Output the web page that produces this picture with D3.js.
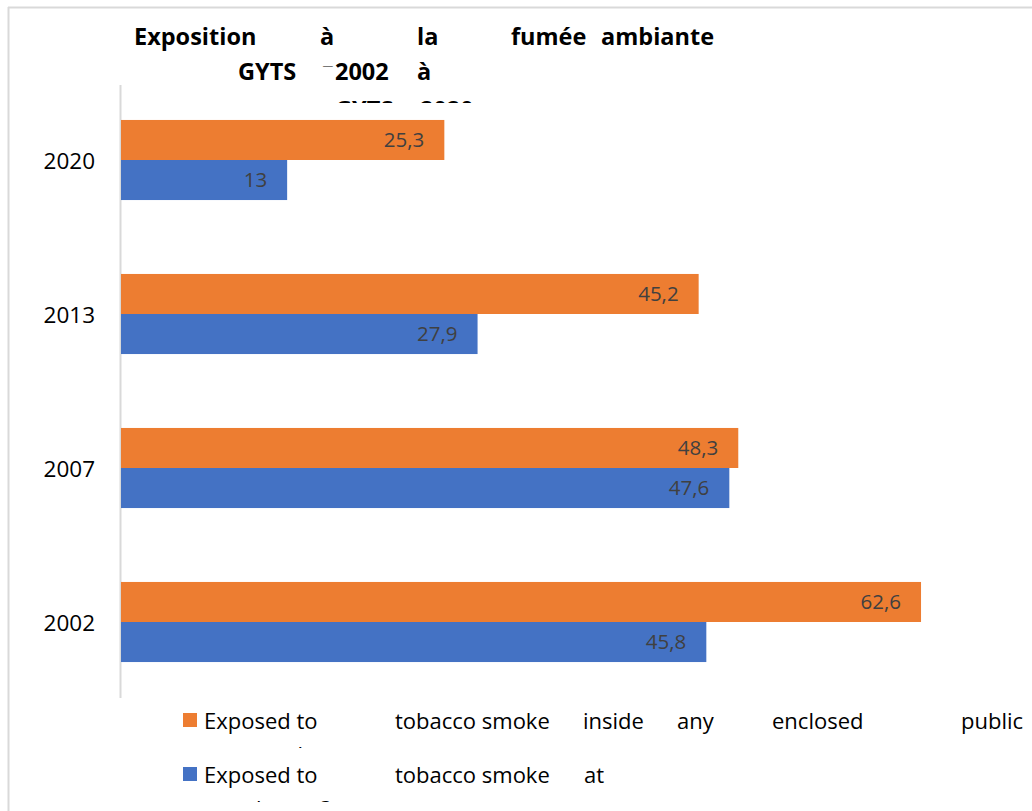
<!DOCTYPE html>
<html>
<head>
<meta charset="utf-8">
<script src="https://cdn.jsdelivr.net/npm/d3@7"></script>
<style>
  html, body { margin: 0; padding: 0; background: #fff; }
  svg { display: block; }
  text { font-family: "Open Sans", "Noto Sans", sans-serif; }
</style>
</head>
<body>
<svg id="chart" width="1032" height="811"></svg>
<script>
// Survey years (drawn top to bottom)
const years = ["2020", "2013", "2007", "2002"];
// Share of students exposed (%), per year
const publicPlaces = [25.3, 45.2, 48.3, 62.6];
const atHome = [13, 27.9, 47.6, 45.8];
const seriesNames = [
  "Exposed to tobacco smoke inside any enclosed public places",
  "Exposed to tobacco smoke at home"
];
const seriesColors = ["#ED7D31", "#4472C4"];

const fmt = v => String(v).replace(".", ",");

const svg = d3.select("#chart");

// outer frame
svg.append("line").attr("x1", 8).attr("x2", 1032).attr("y1", 7.5).attr("y2", 7.5)
  .attr("stroke", "#d9d9d9").attr("stroke-width", 2);
svg.append("line").attr("x1", 8.5).attr("x2", 8.5).attr("y1", 7).attr("y2", 811)
  .attr("stroke", "#d9d9d9").attr("stroke-width", 2);

// scales
const x = d3.scaleLinear().domain([0, 70]).range([121, 121 + 70 * 12.78]);
const y = d3.scaleBand().domain(years).range([83, 699]).paddingInner(0.48).paddingOuter(0.24);
const sub = d3.scaleBand().domain([0, 1]).range([0, y.bandwidth()]);

// category axis line
svg.append("line").attr("x1", 120.5).attr("x2", 120.5).attr("y1", 85).attr("y2", 698)
  .attr("stroke", "#d9d9d9").attr("stroke-width", 2);

const rows = years.map((yr, i) => ({ yr, vals: [publicPlaces[i], atHome[i]] }));

const grp = svg.append("g").selectAll("g.year").data(rows).join("g")
  .attr("class", "year")
  .attr("transform", d => `translate(0,${y(d.yr)})`);

grp.selectAll("rect").data(d => d.vals).join("rect")
  .attr("x", x(0))
  .attr("y", (d, i) => sub(i))
  .attr("width", d => x(d) - x(0))
  .attr("height", sub.bandwidth())
  .attr("fill", (d, i) => seriesColors[i]);

grp.selectAll("text.val").data(d => d.vals).join("text")
  .attr("class", "val")
  .attr("x", d => x(d) - 20)
  .attr("y", (d, i) => sub(i) + sub.bandwidth() / 2)
  .attr("dy", "0.36em")
  .attr("text-anchor", "end")
  .attr("font-size", 20.5)
  .attr("fill", "#404040")
  .text(d => fmt(d));

// year labels
svg.selectAll("text.yr").data(years).join("text")
  .attr("class", "yr")
  .attr("x", 95)
  .attr("y", d => y(d) + y.bandwidth() / 2)
  .attr("dy", "0.38em")
  .attr("text-anchor", "end")
  .attr("font-size", 22.5)
  .attr("fill", "#000")
  .text(d => d);

// title, justified over two lines, third line cut off by the plot top
const titleWords = [
  { t: "Exposition", x: 134, y: 45 },
  { t: "à", x: 320, y: 45 },
  { t: "la", x: 417, y: 45 },
  { t: "fumée", x: 511, y: 45 },
  { t: "ambiante", x: 601, y: 45 },
  { t: "GYTS", x: 238, y: 80 },
  { t: "2002", x: 335, y: 80 },
  { t: "à", x: 417, y: 80 }
];
svg.append("g").selectAll("text").data(titleWords).join("text")
  .attr("x", d => d.x).attr("y", d => d.y)
  .attr("font-size", 23.5).attr("font-weight", 700).attr("fill", "#000")
  .text(d => d.t);
svg.append("clipPath").attr("id", "cutdash").append("rect")
  .attr("x", 320).attr("y", 64).attr("width", 14).attr("height", 3);
svg.append("text").attr("clip-path", "url(#cutdash)")
  .attr("x", 322).attr("y", 74).attr("font-size", 23.5)
  .attr("font-weight", 700).attr("fill", "#000").text("–");

svg.append("clipPath").attr("id", "cut3").append("rect")
  .attr("x", 0).attr("y", 0).attr("width", 1032).attr("height", 103);
svg.append("g").attr("clip-path", "url(#cut3)").selectAll("text")
  .data([{ t: "GYTS", x: 335 }, { t: "2020", x: 420 }]).join("text")
  .attr("x", d => d.x).attr("y", 118)
  .attr("font-size", 23.5).attr("font-weight", 700).attr("fill", "#000")
  .text(d => d.t);

// legend, justified words on each entry
const legendRows = [
  { words: [["Exposed to", 204], ["tobacco smoke", 395], ["inside", 583], ["any", 677], ["enclosed", 772], ["public", 961]],
    next: "places", nextX: 284, y: 721, sy: 713 },
  { words: [["Exposed to", 204], ["tobacco smoke", 395], ["at", 584]],
    next: "home ?", nextX: 256, y: 775, sy: 767 }
];
const leg = svg.append("g");
legendRows.forEach((r, i) => {
  leg.append("rect").attr("x", 183).attr("y", r.sy).attr("width", 14).attr("height", 14)
    .attr("fill", seriesColors[i]).append("title").text(seriesNames[i]);
  leg.selectAll(null).data(r.words).join("text")
    .attr("x", d => d[1]).attr("y", r.y).attr("dy", "0.36em")
    .attr("font-size", 22).attr("fill", "#000")
    .text(d => d[0]);
  const cid = "legcut" + i;
  svg.append("clipPath").attr("id", cid).append("rect")
    .attr("x", 0).attr("y", r.y + 22).attr("width", 1032).attr("height", 5);
  leg.append("text").attr("clip-path", `url(#${cid})`)
    .attr("x", r.nextX).attr("y", r.y + 42).attr("font-size", 22).attr("fill", "#000")
    .text(r.next);
});
</script>
</body>
</html>
